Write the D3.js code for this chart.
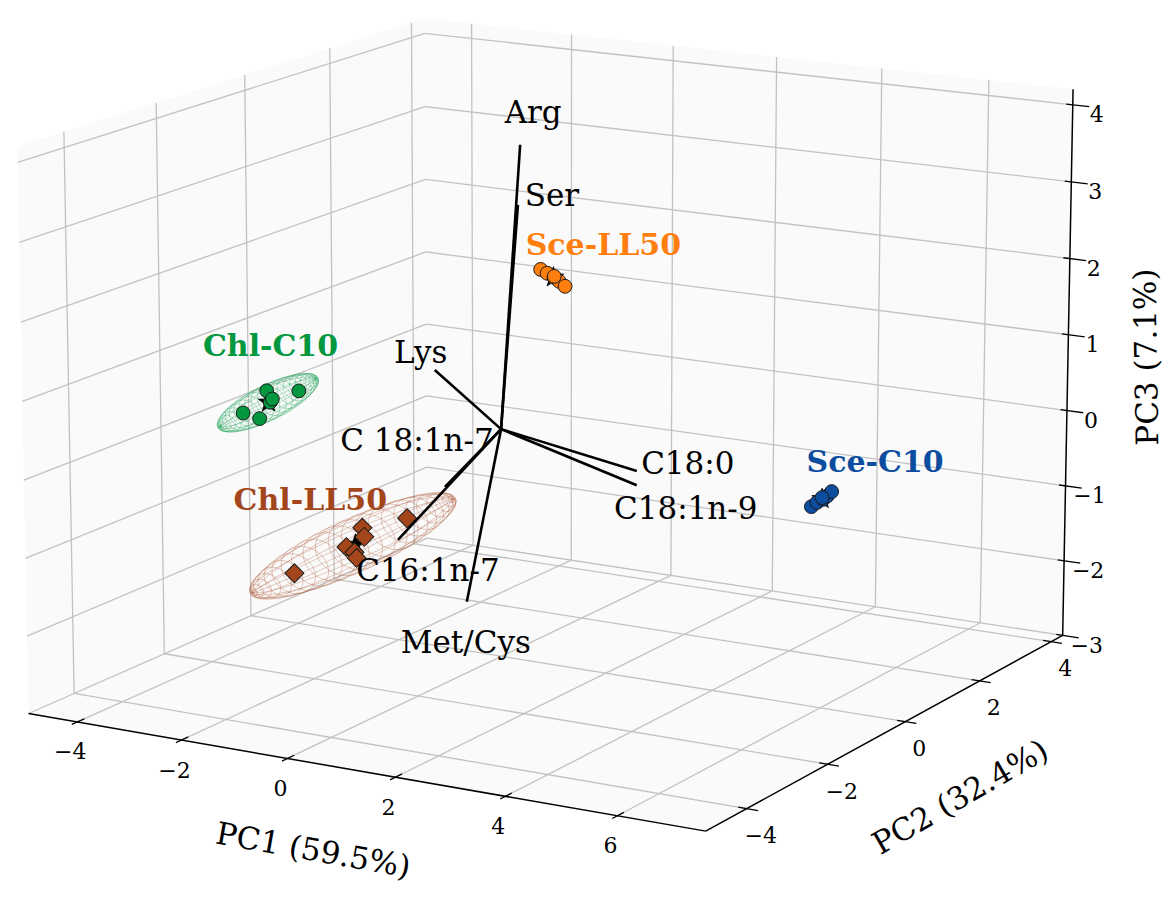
<!DOCTYPE html>
<html>
<head>
<meta charset="utf-8">
<title>PCA biplot</title>
<script src="https://d3js.org/d3.v7.min.js"></script>
<style>
  body { margin: 0; background: #fff; }
  text { font-family: "DejaVu Serif", serif; fill: #000; }
  .grid { stroke: #c2c2c2; stroke-width: 1.3; fill: none; }
  .axis { stroke: #000; stroke-width: 1.5; fill: none; }
  .tick { stroke: #000; stroke-width: 1.3; fill: none; }
  .ticklbl { font-size: 22px; }
  .axlbl { font-size: 31px; }
  .load { stroke: #000; stroke-width: 2.6; fill: none; }
  .loadlbl { font-size: 31px; }
  .grplbl { font-size: 30px; font-weight: bold; }
</style>
</head>
<body>
<svg id="chart" width="1173" height="899"></svg>
<script>
// axis limits, ticks and titles
var xLim = [-4.95, 7.55], yLim = [-4.98, 4.33], zLim = [-3, 4.2];
var xTicks = [-4, -2, 0, 2, 4, 6],
    yTicks = [-4, -2, 0, 2, 4],
    zTicks = [-3, -2, -1, 0, 1, 2, 3, 4];
var axisTitles = ["PC1 (59.5%)", "PC2 (32.4%)", "PC3 (7.1%)"];

// groups
var groups = ["Chl-C10", "Chl-LL50", "Sce-C10", "Sce-LL50"];
var groupColors = ["#03973f", "#a3461c", "#0d4d9f", "#ff7f0e"];
var groupShapes = ["circle", "diamond", "circle", "circle"];

// scores [PC1, PC2, PC3]
var chlC10 = [[-4.06, -0.61, 0.25], [-4.01, 0.08, 0.10], [-4.11, -1.10, 0.06],
              [-4.06, -0.78, -0.08], [-4.06, -0.53, 0.08], [-4.01, -0.54, 0.13]];
var chlLL50 = [[-1.05, -3.55, -1.13], [-1.09, -1.95, -0.94], [-1.12, -1.87, -1.08],
               [-1.09, -2.32, -1.10], [-1.06, -2.17, -1.20], [-1.12, -2.05, -1.31],
               [-1.10, -0.89, -1.07]];
var sceC10 = [[6.70, -1.27, -0.03], [6.70, -1.13, -0.01], [6.72, -1.00, 0.00],
              [6.70, -0.87, 0.01], [6.68, -0.73, 0.03], [6.70, -1.00, 0.02]];
var sceLL50 = [[-1.97, 3.50, 1.19], [-1.84, 3.50, 1.15], [-1.72, 3.52, 1.10],
               [-1.60, 3.50, 1.06], [-1.47, 3.48, 1.01], [-1.70, 3.50, 1.12]];

// confidence ellipsoids: major semi-axis vector, minor radii [across, vertical]
var ellMajor = [[-0.15, 1.28, 0.02], [-0.12, 2.45, 0.0], [0.0, 0.33, 0.03], [0.32, 0.0, -0.11]];
var ellMinor = [[0.32, 0.22], [0.5, 0.32], [0.08, 0.06], [0.08, 0.06]];

// loadings
var loadNames = ["Arg", "Ser", "Lys", "C18:0", "C18:1n-9", "C16:1n-7", "C 18:1n-7", "Met/Cys"];
var loadTips = [[-0.02, 0.5, 3.59], [-0.30, 0.8, 2.73], [-0.87, -0.5, 0.80], [2.80, -0.3, -0.20],
                [2.95, -0.5, -0.32], [-0.37, -2.0, -1.01], [-0.20, -1.1, -0.52], [0.13, -1.0, -2.01]];

// label nudges (px)
var loadNudge = { "Arg": [13, -33], "Ser": [34, -10], "Lys": [-14, -18], "C18:0": [51, -8],
                  "C18:1n-9": [49, 23], "C16:1n-7": [30, 30], "C 18:1n-7": [-28, -47], "Met/Cys": [-1, 40] };
var groupNudge = { "Chl-C10": [2, -57], "Chl-LL50": [-45, -45], "Sce-C10": [53, -37], "Sce-LL50": [50, -33] };

var svg = d3.select("#chart");
svg.append("rect").attr("width", 1173).attr("height", 899).attr("fill", "#fff");

// 3d projection (box aspect 4:4:3, perspective camera)
var k = 1.8294640721620434 / Math.hypot(4, 4, 3),
    box = [4 * k, 4 * k, 3 * k];
var sx = d3.scaleLinear().domain(xLim).range([-box[0] / 2, box[0] / 2]),
    sy = d3.scaleLinear().domain(yLim).range([-box[1] / 2, box[1] / 2]),
    sz = d3.scaleLinear().domain(zLim).range([-box[2] / 2, box[2] / 2]);
var elev = 14 * Math.PI / 180, azim = -60 * Math.PI / 180, dist = 10,
    focal = 6690, cx = 556, cy = 398.3;
var W = [Math.cos(elev) * Math.cos(azim), Math.cos(elev) * Math.sin(azim), Math.sin(elev)],
    U = [-Math.sin(azim), Math.cos(azim), 0],
    V = [-Math.sin(elev) * Math.cos(azim), -Math.sin(elev) * Math.sin(azim), Math.cos(elev)];
function dot(a, b) { return a[0] * b[0] + a[1] * b[1] + a[2] * b[2]; }
function proj(p) {
  var q = [sx(p[0]), sy(p[1]), sz(p[2])], d = dist - dot(q, W);
  return [cx + focal * dot(q, U) / d, cy - focal * dot(q, V) / d];
}
var line = d3.line();
function seg(g, p0, p1, cls) {
  return g.append("path").attr("class", cls).attr("d", line([proj(p0), proj(p1)]));
}
function fmt(t) { return t < 0 ? "\u2212" + Math.abs(t) : "" + t; }

var x0 = xLim[0], x1 = xLim[1], y0 = yLim[0], y1 = yLim[1], z0 = zLim[0], z1 = zLim[1];

// panes
var panes = [
  [[x0, y0, z0], [x1, y0, z0], [x1, y1, z0], [x0, y1, z0]],
  [[x0, y0, z0], [x0, y1, z0], [x0, y1, z1], [x0, y0, z1]],
  [[x0, y1, z0], [x1, y1, z0], [x1, y1, z1], [x0, y1, z1]]
];
svg.append("g").selectAll("path").data(panes).enter().append("path")
  .attr("d", function(c) { return line(c.map(proj)) + "Z"; })
  .attr("fill", "#eef0f2").attr("fill-opacity", 0.3);

// grid
var gGrid = svg.append("g");
xTicks.forEach(function(t) {
  seg(gGrid, [t, y0, z0], [t, y1, z0], "grid");
  seg(gGrid, [t, y1, z0], [t, y1, z1], "grid");
});
yTicks.forEach(function(t) {
  seg(gGrid, [x0, t, z0], [x1, t, z0], "grid");
  seg(gGrid, [x0, t, z0], [x0, t, z1], "grid");
});
zTicks.forEach(function(t) {
  seg(gGrid, [x0, y0, t], [x0, y1, t], "grid");
  seg(gGrid, [x0, y1, t], [x1, y1, t], "grid");
});

// axes
var gAx = svg.append("g");
seg(gAx, [x0, y0, z0], [x1, y0, z0], "axis");
seg(gAx, [x1, y0, z0], [x1, y1, z0], "axis");
seg(gAx, [x1, y1, z0], [x1, y1, z1], "axis");

xTicks.forEach(function(t) {
  seg(gAx, [t, y0 - 0.12, z0], [t, y0 + 0.15, z0], "tick");
  var p = proj([t, y0, z0]);
  gAx.append("text").attr("class", "ticklbl").attr("x", p[0] - 7).attr("y", p[1] + 30)
    .attr("text-anchor", "middle").attr("dominant-baseline", "central").text(fmt(t));
});
yTicks.forEach(function(t) {
  seg(gAx, [x1 - 0.15, t, z0], [x1 + 0.2, t, z0], "tick");
  var p = proj([x1, t, z0]);
  gAx.append("text").attr("class", "ticklbl").attr("x", p[0] + 14).attr("y", p[1] + 27)
    .attr("text-anchor", "middle").attr("dominant-baseline", "central").text(fmt(t));
});
zTicks.forEach(function(t) {
  seg(gAx, [x1 - 0.12, y1, t], [x1 + 0.3, y1, t], "tick");
  var p = proj([x1, y1, t]);
  gAx.append("text").attr("class", "ticklbl").attr("x", p[0] + 24).attr("y", p[1] + 10)
    .attr("text-anchor", "middle").attr("dominant-baseline", "central").text(fmt(t));
});

// axis titles
var tPos = [
  { p: proj([d3.mean(xLim), y0, z0]), off: [-44, 79], rot: 10 },
  { p: proj([x1, d3.mean(yLim), z0]), off: [67, 68], rot: -30 },
  { p: proj([x1, y1, d3.mean(zLim)]), off: [78, -8], rot: -91 }
];
tPos.forEach(function(d, i) {
  var x = d.p[0] + d.off[0], y = d.p[1] + d.off[1];
  gAx.append("text").attr("class", "axlbl")
    .attr("transform", "translate(" + x + "," + y + ") rotate(" + d.rot + ")")
    .attr("text-anchor", "middle").attr("dominant-baseline", "central").text(axisTitles[i]);
});

// ellipsoids
var groupScores = [chlC10, chlLL50, sceC10, sceLL50];
var centers = groupScores.map(function(s) {
  return [0, 1, 2].map(function(j) { return d3.mean(s, function(p) { return p[j]; }); });
});
function norm(a) { var l = Math.hypot(a[0], a[1], a[2]); return [a[0] / l, a[1] / l, a[2] / l]; }
function cross(a, b) { return [a[1] * b[2] - a[2] * b[1], a[2] * b[0] - a[0] * b[2], a[0] * b[1] - a[1] * b[0]]; }

var gEll = svg.append("g");
groups.forEach(function(gname, gi) {
  var c = centers[gi], m = ellMajor[gi], e1 = norm(m);
  var e2 = norm([-e1[2] * e1[0], -e1[2] * e1[1], 1 - e1[2] * e1[2]]);
  var e3 = cross(e1, e2);
  var rA = ellMinor[gi][0], rV = ellMinor[gi][1];
  function pt(u, v) {
    var a = Math.cos(v), b = Math.sin(v) * Math.cos(u) * rA, d = Math.sin(v) * Math.sin(u) * rV;
    return proj([0, 1, 2].map(function(j) { return c[j] + a * m[j] + b * e3[j] + d * e2[j]; }));
  }
  var nv = 24, nu = 14, steps = 48, paths = [];
  for (var i = 1; i < nv; i++) {
    var v = Math.PI * i / nv;
    paths.push(d3.range(steps + 1).map(function(s) { return pt(2 * Math.PI * s / steps, v); }));
  }
  for (var j = 0; j < nu; j++) {
    var u = 2 * Math.PI * j / nu;
    paths.push(d3.range(steps + 1).map(function(s) { return pt(u, Math.PI * s / steps); }));
  }
  gEll.append("g").selectAll("path").data(paths).enter().append("path")
    .attr("d", line).attr("fill", "none")
    .attr("stroke", groupColors[gi]).attr("stroke-opacity", 0.4).attr("stroke-width", 0.7);
});

// group centroids (stars) then samples
var gPts = svg.append("g");
groups.forEach(function(gname, gi) {
  var c = proj(centers[gi]);
  gPts.append("path").attr("d", d3.symbol(d3.symbolStar, 130)())
    .attr("transform", "translate(" + c + ")")
    .attr("fill", "#000").attr("stroke", "#000").attr("stroke-width", 0.8);
});
groups.forEach(function(gname, gi) {
  var sym = groupShapes[gi] === "diamond" ? d3.symbol(d3.symbolSquare, 180)() : d3.symbol(d3.symbolCircle, 150)();
  gPts.append("g").selectAll("path").data(groupScores[gi]).enter().append("path")
    .attr("d", sym)
    .attr("transform", function(p) {
      var s = proj(p);
      return "translate(" + s + ")" + (groupShapes[gi] === "diamond" ? " rotate(45)" : "");
    })
    .attr("fill", groupColors[gi]).attr("stroke", "#1a1a1a").attr("stroke-width", 1);
});

// loadings
var gLoad = svg.append("g");
var o = [0, 0, 0];
loadTips.forEach(function(t, i) {
  seg(gLoad, o, t, "load");
  var p = proj(t), n = loadNudge[loadNames[i]];
  gLoad.append("text").attr("class", "loadlbl").attr("x", p[0] + n[0]).attr("y", p[1] + n[1])
    .attr("text-anchor", "middle").attr("dominant-baseline", "central").text(loadNames[i]);
});

// group labels
groups.forEach(function(gname, gi) {
  var c = proj(centers[gi]), n = groupNudge[gname];
  svg.append("text").attr("class", "grplbl").attr("x", c[0] + n[0]).attr("y", c[1] + n[1])
    .attr("text-anchor", "middle").attr("dominant-baseline", "central")
    .style("fill", groupColors[gi]).text(gname);
});
</script>
</body>
</html>
